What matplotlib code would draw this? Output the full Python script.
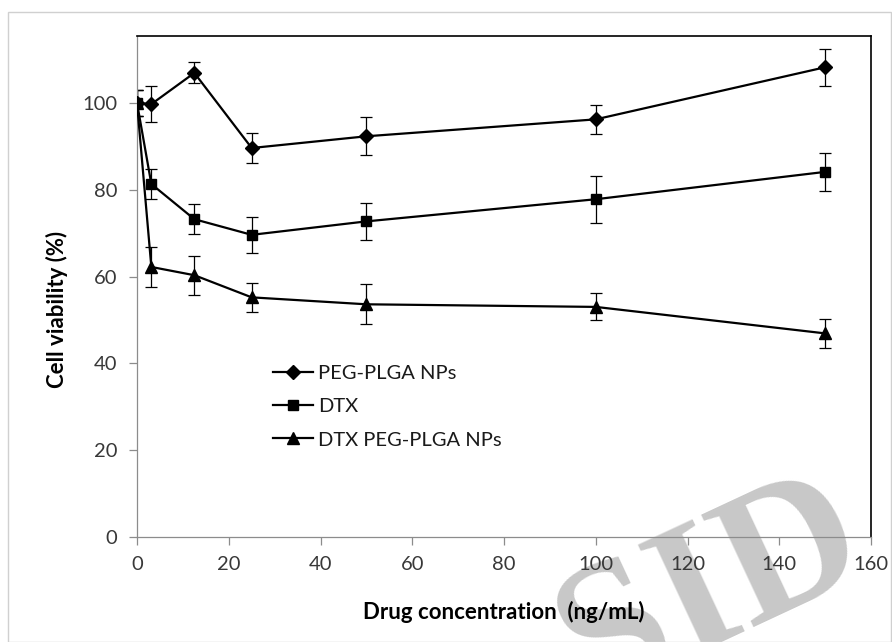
import matplotlib
matplotlib.use("Agg")
import matplotlib.pyplot as plt
from matplotlib.patches import Rectangle

# drug concentration (ng/mL)
conc = [0, 3.125, 12.5, 25, 50, 100, 150]

# cell viability (%) and standard deviation
peg_plga = [100.0, 99.7, 106.9, 89.6, 92.3, 96.2, 108.2]
peg_plga_sd = [3.0, 4.1, 2.4, 3.4, 4.4, 3.3, 4.3]

dtx = [100.0, 81.3, 73.2, 69.6, 72.7, 77.8, 84.1]
dtx_sd = [3.0, 3.4, 3.4, 4.2, 4.3, 5.4, 4.3]

dtx_peg_plga = [100.0, 62.2, 60.3, 55.2, 53.6, 53.0, 46.9]
dtx_peg_plga_sd = [3.0, 4.7, 4.5, 3.3, 4.6, 3.1, 3.4]

labels = ["PEG-PLGA NPs", "DTX", "DTX PEG-PLGA NPs"]
x_ticks = [0, 20, 40, 60, 80, 100, 120, 140, 160]
y_ticks = [0, 20, 40, 60, 80, 100]

plt.rcParams["font.family"] = ["Lato", "DejaVu Sans"]

W, H = 892, 642
fig = plt.figure(figsize=(W / 100, H / 100), dpi=100)
ax = fig.add_axes([137 / W, 1 - 537 / H, 734 / W, 501 / H])
ax.set_facecolor("none")

series = [(peg_plga, peg_plga_sd, "D", 7.0),
          (dtx, dtx_sd, "s", 7.0),
          (dtx_peg_plga, dtx_peg_plga_sd, "^", 8.5)]
for (vals, sd, mk, ms), lab in zip(series, labels):
    ax.errorbar(conc, vals, yerr=sd, fmt="none", ecolor="black",
                elinewidth=0.9, capsize=4, capthick=0.9, zorder=2)
    ax.plot(conc, vals, color="black", lw=1.6, marker=mk, ms=ms,
            mfc="black", mec="black", label=lab, zorder=3)

ax.set_xlim(0, 160)
ax.set_ylim(0, 115.4)
ax.set_xticks(x_ticks)
ax.set_yticks(y_ticks)
ax.tick_params(axis="both", direction="out", length=6, width=0.9,
               color="#8c8c8c", labelsize=14.5, labelcolor="#383838", pad=8)

for side in ["left", "bottom"]:
    ax.spines[side].set_color("#8c8c8c")
    ax.spines[side].set_linewidth(0.9)
for side in ["top", "right"]:
    ax.spines[side].set_color("black")
    ax.spines[side].set_linewidth(1.2)

# axis titles
fig.text(504 / W, 1 - 612 / H, "Drug concentration  (ng/mL)", fontsize=16,
         fontweight="bold", ha="center", va="center")
fig.text(57 / W, 1 - 309 / H, "Cell viability (%)", fontsize=16,
         fontweight="bold", rotation=90, ha="center", va="center")

leg = ax.legend(loc="upper left", bbox_to_anchor=(273 / W, 1 - 365 / H),
                bbox_transform=fig.transFigure, frameon=False, fontsize=14.5,
                borderpad=0, borderaxespad=0, handlelength=2.0,
                handletextpad=0.25, labelspacing=0.8)
for t in leg.get_texts():
    t.set_color("#1a1a1a")

# light outer frame around the chart area
fig.patches.append(Rectangle((8 / W, 0.0), 883 / W, 1 - 12 / H,
                             transform=fig.transFigure, fill=False,
                             edgecolor="#d0d0d0", linewidth=1.0))

# watermark, kept behind the axes
fig.text(712 / W, 1 - 592 / H, "SID", fontsize=135, family="Liberation Serif",
         fontweight="bold", color="#c8c8c8", rotation=25,
         ha="center", va="center", zorder=-1)

fig.savefig("out.png", dpi=100)
